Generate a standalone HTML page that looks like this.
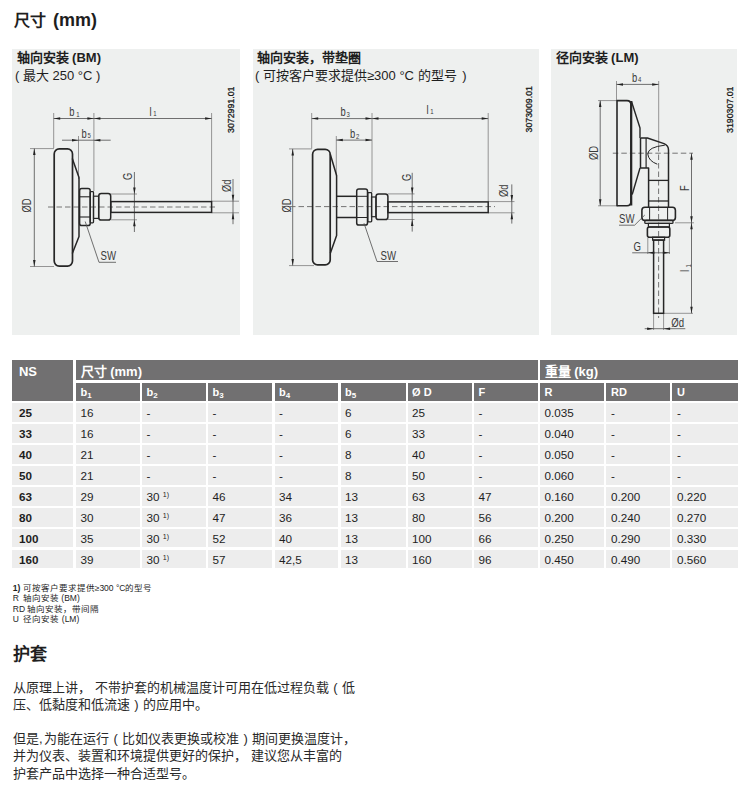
<!DOCTYPE html>
<html lang="zh-CN"><head><meta charset="utf-8">
<style>
html,body{margin:0;padding:0;background:#fff;}
body{width:750px;height:803px;position:relative;overflow:hidden;font-family:"Liberation Sans",sans-serif;color:#1e1e1e;}
.abs{position:absolute;white-space:nowrap;}
.title{left:13.5px;top:9px;font-size:16px;font-weight:bold;line-height:22px;}
.panel{position:absolute;background:#eef0ef;top:49px;height:286px;}
.ptitle{position:absolute;font-size:13px;line-height:17.5px;white-space:nowrap;}
.ptitle b{font-weight:bold;}
.ptitle .l{font-size:13px;}
.h,.d{position:absolute;box-sizing:border-box;}
.h{background:#717071;color:#fff;font-weight:bold;font-size:11px;}
.h1{font-size:13px;}
.d{background:#ededed;color:#1e1e1e;font-size:11.7px;}
.h span,.d span{position:absolute;left:4.6px;line-height:1.117;white-space:nowrap;}
.h span{top:3.15px;}
.h1 span{top:4.5px;}
.d span{top:3px;}
.ns span,.d.b span{left:6.5px;}
.d.b{font-weight:bold;}
sub{font-size:8px;vertical-align:-2px;line-height:0;}
sup{font-size:7px;vertical-align:4px;line-height:0;}
.foot{left:12.8px;top:583px;font-size:8.5px;line-height:10.3px;}
.h2{left:13px;top:644px;font-size:17px;font-weight:bold;line-height:22px;}
.para{left:13px;font-size:13px;line-height:17.5px;color:#2a2a2a;}
.cm{letter-spacing:4px;}
.hc{margin-right:1.5px;}
.fp{font-style:normal;display:inline-block;width:13px;text-align:center;}
svg{position:absolute;left:0;top:0;}
</style></head><body>
<div class="abs title">尺寸<span style="margin-left:2.5px;font-size:18px"> (mm)</span></div>
<div class="panel" style="left:12.4px;width:227.7px;"></div>
<div class="panel" style="left:252.5px;width:286.1px;"></div>
<div class="panel" style="left:551px;width:185.8px;"></div>
<div class="ptitle" style="left:16.5px;top:49.3px;"><b>轴向安装<span class="l"> (BM)</span></b><br><span class="l" style="margin-left:-1.5px">( </span>最大<span class="l"> 250 °C )</span></div>
<div class="ptitle" style="left:256.5px;top:49.3px;"><b>轴向安装，带垫圈</b><br><span class="l" style="margin-left:-1.5px">( </span>可按客户要求提供<span class="l">≥300 °C </span>的型号<span class="l" style="margin-left:2px"> )</span></div>
<div class="ptitle" style="left:555.5px;top:49.3px;"><b>径向安装<span class="l"> (LM)</span></b></div>
<svg width="750" height="803" viewBox="0 0 750 803">
<line x1="53.7" y1="113" x2="53.7" y2="148" stroke="#8a8a8a" stroke-width="0.9" />
<line x1="93.9" y1="113" x2="93.9" y2="191" stroke="#8a8a8a" stroke-width="0.9" />
<line x1="211.6" y1="113" x2="211.6" y2="201" stroke="#8a8a8a" stroke-width="0.9" />
<line x1="78.5" y1="136" x2="78.5" y2="179" stroke="#8a8a8a" stroke-width="0.9" />
<line x1="30" y1="148.6" x2="54" y2="148.6" stroke="#8a8a8a" stroke-width="0.9" />
<line x1="30" y1="266.5" x2="54" y2="266.5" stroke="#8a8a8a" stroke-width="0.9" />
<line x1="53.7" y1="118.5" x2="211.6" y2="118.5" stroke="#4e4e4e" stroke-width="0.8" />
<polygon points="53.70,118.50 60.20,117.25 60.20,119.75" fill="#222"/>
<polygon points="93.90,118.50 87.40,117.25 87.40,119.75" fill="#222"/>
<polygon points="93.90,118.50 100.40,117.25 100.40,119.75" fill="#222"/>
<polygon points="211.60,118.50 205.10,117.25 205.10,119.75" fill="#222"/>
<line x1="62" y1="140.2" x2="110.7" y2="140.2" stroke="#4e4e4e" stroke-width="0.8" />
<polygon points="78.50,140.20 72.00,138.95 72.00,141.45" fill="#222"/>
<polygon points="93.90,140.20 100.40,138.95 100.40,141.45" fill="#222"/>
<line x1="34.3" y1="148.6" x2="34.3" y2="266.5" stroke="#4e4e4e" stroke-width="0.8" />
<polygon points="34.30,148.60 33.05,155.10 35.55,155.10" fill="#222"/>
<polygon points="34.30,266.50 33.05,260.00 35.55,260.00" fill="#222"/>
<line x1="110.8" y1="194" x2="137" y2="194" stroke="#8a8a8a" stroke-width="0.9" />
<line x1="110.8" y1="219.8" x2="137" y2="219.8" stroke="#8a8a8a" stroke-width="0.9" />
<line x1="134.4" y1="172" x2="134.4" y2="232" stroke="#4e4e4e" stroke-width="0.8" />
<polygon points="134.40,194.00 133.15,187.50 135.65,187.50" fill="#222"/>
<polygon points="134.40,219.80 133.15,226.30 135.65,226.30" fill="#222"/>
<line x1="211.6" y1="201.2" x2="239" y2="201.2" stroke="#8a8a8a" stroke-width="0.9" />
<line x1="211.6" y1="212.8" x2="239" y2="212.8" stroke="#8a8a8a" stroke-width="0.9" />
<line x1="233" y1="179" x2="233" y2="224.2" stroke="#4e4e4e" stroke-width="0.8" />
<polygon points="233.00,201.20 231.75,194.70 234.25,194.70" fill="#222"/>
<polygon points="233.00,212.80 231.75,219.30 234.25,219.30" fill="#222"/>
<line x1="48" y1="207" x2="217" y2="207" stroke="#666" stroke-width="0.9" stroke-dasharray="5.5,3"/>
<rect x="54.2" y="148.9" width="18.3" height="117.2" rx="5" stroke="#262626" stroke-width="1.7" fill="none"/>
<path d="M72.3,158.5 L79,177.5 L79,236.5 L72.3,253.5" stroke="#262626" stroke-width="1.5" fill="none" stroke-linejoin="round" />
<rect x="79.6" y="188.6" width="10.6" height="37" rx="2.2" stroke="#262626" stroke-width="1.5" fill="none"/>
<line x1="79.6" y1="196.8" x2="90.2" y2="196.8" stroke="#262626" stroke-width="1.1" />
<line x1="79.6" y1="217" x2="90.2" y2="217" stroke="#262626" stroke-width="1.1" />
<rect x="90.2" y="191.6" width="3.3" height="31.2" rx="0.8" stroke="#262626" stroke-width="1.3" fill="none"/>
<rect x="93.5" y="196.2" width="5.2" height="22.2" rx="0" stroke="#262626" stroke-width="1.2" fill="none"/>
<rect x="98.7" y="193.6" width="12" height="26.4" rx="2.6" stroke="#262626" stroke-width="1.5" fill="none"/>
<rect x="110.8" y="201.6" width="100.8" height="10.8" rx="0" stroke="#262626" stroke-width="1.5" fill="none"/>
<path d="M85.2,221.5 L99,262.3 L116,262.3" stroke="#4e4e4e" stroke-width="0.8" fill="none" stroke-linejoin="round" />
<text transform="translate(69.3,116) scale(0.72,1)" font-size="13" fill="#3a3a3a" text-anchor="start" font-weight="normal">b</text>
<text transform="translate(76.3,116.7) scale(0.75,1)" font-size="8" fill="#3a3a3a" text-anchor="start" font-weight="normal">1</text>
<text transform="translate(149.6,116) scale(0.72,1)" font-size="13" fill="#3a3a3a" text-anchor="start" font-weight="normal">l</text>
<text transform="translate(153.2,116.2) scale(0.75,1)" font-size="8" fill="#3a3a3a" text-anchor="start" font-weight="normal">1</text>
<text transform="translate(81.5,137.5) scale(0.72,1)" font-size="13" fill="#3a3a3a" text-anchor="start" font-weight="normal">b</text>
<text transform="translate(87.5,138.2) scale(0.75,1)" font-size="8" fill="#3a3a3a" text-anchor="start" font-weight="normal">5</text>
<text transform="translate(132,180) rotate(-90) scale(0.72,1)" font-size="13" fill="#3a3a3a" text-anchor="start" font-weight="normal">G</text>
<text transform="translate(231,192) rotate(-90) scale(0.72,1)" font-size="13" fill="#3a3a3a" text-anchor="start" font-weight="normal">Ød</text>
<text transform="translate(30.5,212.5) rotate(-90) scale(0.72,1)" font-size="13" fill="#3a3a3a" text-anchor="start" font-weight="normal">ØD</text>
<text transform="translate(100.5,259.5) scale(0.74,1)" font-size="13" fill="#3a3a3a" text-anchor="start" font-weight="normal">SW</text>
<text transform="translate(234.4,133) rotate(-90) scale(1,1)" font-size="8.8" fill="#1a1a1a" text-anchor="start" font-weight="normal" stroke="#1a1a1a" stroke-width="0.3">3072991.01</text>
<line x1="311.7" y1="113" x2="311.7" y2="148.5" stroke="#8a8a8a" stroke-width="0.9" />
<line x1="372" y1="113" x2="372" y2="192" stroke="#8a8a8a" stroke-width="0.9" />
<line x1="488.2" y1="113" x2="488.2" y2="201" stroke="#8a8a8a" stroke-width="0.9" />
<line x1="336.3" y1="136" x2="336.3" y2="176" stroke="#8a8a8a" stroke-width="0.9" />
<line x1="289" y1="148.9" x2="312" y2="148.9" stroke="#8a8a8a" stroke-width="0.9" />
<line x1="289" y1="265.6" x2="314" y2="265.6" stroke="#8a8a8a" stroke-width="0.9" />
<line x1="311.7" y1="118.6" x2="488.2" y2="118.6" stroke="#4e4e4e" stroke-width="0.8" />
<polygon points="311.70,118.60 318.20,117.35 318.20,119.85" fill="#222"/>
<polygon points="372.00,118.60 365.50,117.35 365.50,119.85" fill="#222"/>
<polygon points="372.00,118.60 378.50,117.35 378.50,119.85" fill="#222"/>
<polygon points="488.20,118.60 481.70,117.35 481.70,119.85" fill="#222"/>
<line x1="336.3" y1="140.1" x2="372" y2="140.1" stroke="#4e4e4e" stroke-width="0.8" />
<polygon points="336.30,140.10 342.80,138.85 342.80,141.35" fill="#222"/>
<polygon points="372.00,140.10 365.50,138.85 365.50,141.35" fill="#222"/>
<line x1="292.7" y1="148.9" x2="292.7" y2="265.6" stroke="#4e4e4e" stroke-width="0.8" />
<polygon points="292.70,148.90 291.45,155.40 293.95,155.40" fill="#222"/>
<polygon points="292.70,265.60 291.45,259.10 293.95,259.10" fill="#222"/>
<line x1="387.9" y1="193.9" x2="414.5" y2="193.9" stroke="#8a8a8a" stroke-width="0.9" />
<line x1="387.9" y1="219.5" x2="414.5" y2="219.5" stroke="#8a8a8a" stroke-width="0.9" />
<line x1="412.2" y1="172.8" x2="412.2" y2="231.6" stroke="#4e4e4e" stroke-width="0.8" />
<polygon points="412.20,193.90 410.95,187.40 413.45,187.40" fill="#222"/>
<polygon points="412.20,219.50 410.95,226.00 413.45,226.00" fill="#222"/>
<line x1="488.2" y1="201.6" x2="514.5" y2="201.6" stroke="#8a8a8a" stroke-width="0.9" />
<line x1="488.2" y1="212.8" x2="514.5" y2="212.8" stroke="#8a8a8a" stroke-width="0.9" />
<line x1="511.8" y1="184.4" x2="511.8" y2="223.6" stroke="#4e4e4e" stroke-width="0.8" />
<polygon points="511.80,201.60 510.55,195.10 513.05,195.10" fill="#222"/>
<polygon points="511.80,212.80 510.55,219.30 513.05,219.30" fill="#222"/>
<line x1="290" y1="206.6" x2="495" y2="206.6" stroke="#666" stroke-width="0.9" stroke-dasharray="5.5,3"/>
<rect x="312.6" y="149.3" width="17.6" height="115.6" rx="5" stroke="#262626" stroke-width="1.7" fill="none"/>
<path d="M330.2,154 L336.6,175.5 L336.6,235.5 L330.4,253" stroke="#262626" stroke-width="1.5" fill="none" stroke-linejoin="round" />
<line x1="336.6" y1="196.3" x2="356.5" y2="196.3" stroke="#262626" stroke-width="1.5" />
<line x1="336.6" y1="217.5" x2="356.5" y2="217.5" stroke="#262626" stroke-width="1.5" />
<rect x="356.7" y="188.9" width="10.8" height="36.2" rx="2.2" stroke="#262626" stroke-width="1.5" fill="none"/>
<line x1="356.7" y1="196.3" x2="367.5" y2="196.3" stroke="#262626" stroke-width="1.0" />
<line x1="356.7" y1="217.5" x2="367.5" y2="217.5" stroke="#262626" stroke-width="1.0" />
<rect x="367.8" y="192.6" width="3.9" height="29.2" rx="0.8" stroke="#262626" stroke-width="1.3" fill="none"/>
<rect x="371.5" y="197" width="4.5" height="19.7" rx="0" stroke="#262626" stroke-width="1.2" fill="none"/>
<rect x="376" y="193.9" width="11.9" height="25.6" rx="2.6" stroke="#262626" stroke-width="1.5" fill="none"/>
<rect x="387.9" y="201.9" width="100.3" height="10.7" rx="0" stroke="#262626" stroke-width="1.5" fill="none"/>
<path d="M364,223.2 L377,261.5 L398,261.5" stroke="#4e4e4e" stroke-width="0.8" fill="none" stroke-linejoin="round" />
<text transform="translate(340.5,116) scale(0.72,1)" font-size="13" fill="#3a3a3a" text-anchor="start" font-weight="normal">b</text>
<text transform="translate(346.5,116.7) scale(0.75,1)" font-size="8" fill="#3a3a3a" text-anchor="start" font-weight="normal">3</text>
<text transform="translate(426.5,114) scale(0.72,1)" font-size="13" fill="#3a3a3a" text-anchor="start" font-weight="normal">l</text>
<text transform="translate(430.2,114.2) scale(0.75,1)" font-size="8" fill="#3a3a3a" text-anchor="start" font-weight="normal">1</text>
<text transform="translate(350,137.8) scale(0.72,1)" font-size="13" fill="#3a3a3a" text-anchor="start" font-weight="normal">b</text>
<text transform="translate(356.0,138.5) scale(0.75,1)" font-size="8" fill="#3a3a3a" text-anchor="start" font-weight="normal">2</text>
<text transform="translate(410.5,181) rotate(-90) scale(0.72,1)" font-size="13" fill="#3a3a3a" text-anchor="start" font-weight="normal">G</text>
<text transform="translate(508,197) rotate(-90) scale(0.72,1)" font-size="13" fill="#3a3a3a" text-anchor="start" font-weight="normal">Ød</text>
<text transform="translate(291.3,212.5) rotate(-90) scale(0.72,1)" font-size="13" fill="#3a3a3a" text-anchor="start" font-weight="normal">ØD</text>
<text transform="translate(380.5,259.5) scale(0.74,1)" font-size="13" fill="#3a3a3a" text-anchor="start" font-weight="normal">SW</text>
<text transform="translate(532.4,132.5) rotate(-90) scale(1,1)" font-size="8.8" fill="#1a1a1a" text-anchor="start" font-weight="normal" stroke="#1a1a1a" stroke-width="0.3">3073009.01</text>
<line x1="616.5" y1="81" x2="616.5" y2="100" stroke="#8a8a8a" stroke-width="0.9" />
<line x1="658.7" y1="81" x2="658.7" y2="146" stroke="#8a8a8a" stroke-width="0.9" />
<line x1="616.5" y1="84.4" x2="658.7" y2="84.4" stroke="#4e4e4e" stroke-width="0.8" />
<polygon points="616.50,84.40 623.00,83.15 623.00,85.65" fill="#222"/>
<polygon points="658.70,84.40 652.20,83.15 652.20,85.65" fill="#222"/>
<line x1="598" y1="100.6" x2="617" y2="100.6" stroke="#8a8a8a" stroke-width="0.9" />
<line x1="598" y1="205.8" x2="618" y2="205.8" stroke="#8a8a8a" stroke-width="0.9" />
<line x1="600.2" y1="100.6" x2="600.2" y2="205.8" stroke="#4e4e4e" stroke-width="0.8" />
<polygon points="600.20,100.60 598.95,107.10 601.45,107.10" fill="#222"/>
<polygon points="600.20,205.80 598.95,199.30 601.45,199.30" fill="#222"/>
<line x1="612.8" y1="153.2" x2="693" y2="153.2" stroke="#666" stroke-width="0.9" stroke-dasharray="5.5,3"/>
<line x1="658.6" y1="146" x2="658.6" y2="318" stroke="#666" stroke-width="0.9" stroke-dasharray="5.5,3"/>
<line x1="675" y1="222.8" x2="694" y2="222.8" stroke="#8a8a8a" stroke-width="0.9" />
<line x1="664" y1="313.3" x2="693" y2="313.3" stroke="#8a8a8a" stroke-width="0.9" />
<line x1="691.5" y1="153.2" x2="691.5" y2="313.3" stroke="#4e4e4e" stroke-width="0.8" />
<polygon points="691.50,153.20 690.25,159.70 692.75,159.70" fill="#222"/>
<polygon points="691.50,222.80 690.25,216.30 692.75,216.30" fill="#222"/>
<polygon points="691.50,222.80 690.25,229.30 692.75,229.30" fill="#222"/>
<polygon points="691.50,313.30 690.25,306.80 692.75,306.80" fill="#222"/>
<line x1="647.8" y1="238" x2="647.8" y2="254" stroke="#8a8a8a" stroke-width="0.9" />
<line x1="669.4" y1="238" x2="669.4" y2="254" stroke="#8a8a8a" stroke-width="0.9" />
<line x1="632.2" y1="252.8" x2="670" y2="252.8" stroke="#4e4e4e" stroke-width="0.8" />
<polygon points="647.80,252.80 654.30,251.55 654.30,254.05" fill="#222"/>
<polygon points="669.40,252.80 662.90,251.55 662.90,254.05" fill="#222"/>
<line x1="653.6" y1="313" x2="653.6" y2="330" stroke="#8a8a8a" stroke-width="0.9" />
<line x1="663.6" y1="313" x2="663.6" y2="330" stroke="#8a8a8a" stroke-width="0.9" />
<line x1="644.7" y1="328.7" x2="685.3" y2="328.7" stroke="#4e4e4e" stroke-width="0.8" />
<polygon points="653.60,328.70 647.10,327.45 647.10,329.95" fill="#222"/>
<polygon points="663.60,328.70 670.10,327.45 670.10,329.95" fill="#222"/>
<path d="M617,100.6 L627,100.6 Q631,100.6 631,105 L631,201 Q631,205.8 627,205.8 L617,205.8 Z" stroke="#262626" stroke-width="1.6" fill="none" stroke-linejoin="round" />
<line x1="631.2" y1="101" x2="631.2" y2="205.5" stroke="#262626" stroke-width="2.2" />
<path d="M631.5,101.5 L640,128 L640,138" stroke="#262626" stroke-width="1.4" fill="none" stroke-linejoin="round" />
<path d="M640,168 L632.2,194.5" stroke="#262626" stroke-width="1.4" fill="none" stroke-linejoin="round" />
<path d="M640.5,138 L647.4,138 L664,143.6 Q668.5,145.5 668.5,150 L668.5,207.2" stroke="#262626" stroke-width="1.5" fill="none" stroke-linejoin="round" />
<path d="M640.5,138 L640.5,168 L648.6,168 L648.6,207.2" stroke="#262626" stroke-width="1.5" fill="none" stroke-linejoin="round" />
<line x1="646.1" y1="138" x2="646.1" y2="168" stroke="#262626" stroke-width="1.2" />
<path d="M664.8,145.2 Q648,147 647.8,154 Q648.5,161 657.3,164.2" stroke="#262626" stroke-width="1.0" fill="none" stroke-linejoin="round" />
<line x1="648.6" y1="180.4" x2="668.5" y2="180.4" stroke="#262626" stroke-width="1.3" />
<line x1="648.6" y1="201" x2="668.5" y2="201" stroke="#262626" stroke-width="1.3" />
<rect x="641.9" y="207.3" width="33.5" height="13.1" rx="3" stroke="#262626" stroke-width="1.6" fill="none"/>
<line x1="649.6" y1="207.3" x2="649.6" y2="220.4" stroke="#262626" stroke-width="1.0" />
<line x1="667.6" y1="207.3" x2="667.6" y2="220.4" stroke="#262626" stroke-width="1.0" />
<rect x="644.8" y="220.4" width="28.2" height="3" rx="1" stroke="#262626" stroke-width="1.3" fill="none"/>
<rect x="648.4" y="223.4" width="21" height="3.6" rx="0" stroke="#262626" stroke-width="1.2" fill="none"/>
<rect x="647.4" y="227" width="22.4" height="10.2" rx="2" stroke="#262626" stroke-width="1.6" fill="none"/>
<rect x="652.6" y="237.2" width="12" height="3" rx="0" stroke="#262626" stroke-width="1.2" fill="none"/>
<rect x="653.6" y="240" width="10" height="73.3" rx="0" stroke="#262626" stroke-width="1.5" fill="none"/>
<path d="M619,225.2 L634.6,225.2 L644.8,215" stroke="#4e4e4e" stroke-width="0.8" fill="none" stroke-linejoin="round" />
<text transform="translate(632,81.5) scale(0.72,1)" font-size="13" fill="#3a3a3a" text-anchor="start" font-weight="normal">b</text>
<text transform="translate(638.0,82.2) scale(0.75,1)" font-size="8" fill="#3a3a3a" text-anchor="start" font-weight="normal">4</text>
<text transform="translate(598.4,160) rotate(-90) scale(0.72,1)" font-size="13" fill="#3a3a3a" text-anchor="start" font-weight="normal">ØD</text>
<text transform="translate(688.5,191) rotate(-90) scale(0.72,1)" font-size="13" fill="#3a3a3a" text-anchor="start" font-weight="normal">F</text>
<text transform="translate(689.3,272) rotate(-90) scale(0.72,1)" font-size="13" fill="#3a3a3a" text-anchor="start" font-weight="normal">l</text>
<text transform="translate(690.8,267.5) rotate(-90) scale(0.75,1)" font-size="8" fill="#3a3a3a" text-anchor="start" font-weight="normal">1</text>
<text transform="translate(633.4,250.5) scale(0.74,1)" font-size="13" fill="#3a3a3a" text-anchor="start" font-weight="normal">G</text>
<text transform="translate(619,223.3) scale(0.74,1)" font-size="13" fill="#3a3a3a" text-anchor="start" font-weight="normal">SW</text>
<text transform="translate(671.3,327.3) scale(0.74,1)" font-size="13" fill="#3a3a3a" text-anchor="start" font-weight="normal">Ød</text>
<text transform="translate(732.6,133) rotate(-90) scale(1,1)" font-size="8.8" fill="#1a1a1a" text-anchor="start" font-weight="normal" stroke="#1a1a1a" stroke-width="0.3">3190307.01</text>
</svg>
<div class="h h1 ns" style="left:12.40px;top:360.00px;width:60.60px;height:41.00px"><span>NS</span></div>
<div class="h h1" style="left:76.00px;top:360.00px;width:461.60px;height:20.00px"><span>尺寸 (mm)</span></div>
<div class="h h1" style="left:540.00px;top:360.00px;width:197.60px;height:20.00px"><span>重量 (kg)</span></div>
<div class="h" style="left:76.00px;top:383.00px;width:64.00px;height:18.00px"><span>b<sub>1</sub></span></div>
<div class="h" style="left:142.00px;top:383.00px;width:64.00px;height:18.00px"><span>b<sub>2</sub></span></div>
<div class="h" style="left:208.00px;top:383.00px;width:64.40px;height:18.00px"><span>b<sub>3</sub></span></div>
<div class="h" style="left:274.50px;top:383.00px;width:63.90px;height:18.00px"><span>b<sub>4</sub></span></div>
<div class="h" style="left:340.50px;top:383.00px;width:65.10px;height:18.00px"><span>b<sub>5</sub></span></div>
<div class="h" style="left:407.50px;top:383.00px;width:64.10px;height:18.00px"><span>Ø D</span></div>
<div class="h" style="left:474.00px;top:383.00px;width:63.60px;height:18.00px"><span>F</span></div>
<div class="h" style="left:540.00px;top:383.00px;width:63.60px;height:18.00px"><span>R</span></div>
<div class="h" style="left:606.40px;top:383.00px;width:64.00px;height:18.00px"><span>RD</span></div>
<div class="h" style="left:672.40px;top:383.00px;width:65.20px;height:18.00px"><span>U</span></div>
<div class="d b" style="left:12.40px;top:403.10px;width:60.60px;height:18.80px"><span>25</span></div>
<div class="d" style="left:76.00px;top:403.10px;width:64.00px;height:18.80px"><span>16</span></div>
<div class="d" style="left:142.00px;top:403.10px;width:64.00px;height:18.80px"><span>-</span></div>
<div class="d" style="left:208.00px;top:403.10px;width:64.40px;height:18.80px"><span>-</span></div>
<div class="d" style="left:274.50px;top:403.10px;width:63.90px;height:18.80px"><span>-</span></div>
<div class="d" style="left:340.50px;top:403.10px;width:65.10px;height:18.80px"><span>6</span></div>
<div class="d" style="left:407.50px;top:403.10px;width:64.10px;height:18.80px"><span>25</span></div>
<div class="d" style="left:474.00px;top:403.10px;width:63.60px;height:18.80px"><span>-</span></div>
<div class="d" style="left:540.00px;top:403.10px;width:63.60px;height:18.80px"><span>0.035</span></div>
<div class="d" style="left:606.40px;top:403.10px;width:64.00px;height:18.80px"><span>-</span></div>
<div class="d" style="left:672.40px;top:403.10px;width:65.20px;height:18.80px"><span>-</span></div>
<div class="d b" style="left:12.40px;top:424.03px;width:60.60px;height:18.80px"><span>33</span></div>
<div class="d" style="left:76.00px;top:424.03px;width:64.00px;height:18.80px"><span>16</span></div>
<div class="d" style="left:142.00px;top:424.03px;width:64.00px;height:18.80px"><span>-</span></div>
<div class="d" style="left:208.00px;top:424.03px;width:64.40px;height:18.80px"><span>-</span></div>
<div class="d" style="left:274.50px;top:424.03px;width:63.90px;height:18.80px"><span>-</span></div>
<div class="d" style="left:340.50px;top:424.03px;width:65.10px;height:18.80px"><span>6</span></div>
<div class="d" style="left:407.50px;top:424.03px;width:64.10px;height:18.80px"><span>33</span></div>
<div class="d" style="left:474.00px;top:424.03px;width:63.60px;height:18.80px"><span>-</span></div>
<div class="d" style="left:540.00px;top:424.03px;width:63.60px;height:18.80px"><span>0.040</span></div>
<div class="d" style="left:606.40px;top:424.03px;width:64.00px;height:18.80px"><span>-</span></div>
<div class="d" style="left:672.40px;top:424.03px;width:65.20px;height:18.80px"><span>-</span></div>
<div class="d b" style="left:12.40px;top:444.96px;width:60.60px;height:18.80px"><span>40</span></div>
<div class="d" style="left:76.00px;top:444.96px;width:64.00px;height:18.80px"><span>21</span></div>
<div class="d" style="left:142.00px;top:444.96px;width:64.00px;height:18.80px"><span>-</span></div>
<div class="d" style="left:208.00px;top:444.96px;width:64.40px;height:18.80px"><span>-</span></div>
<div class="d" style="left:274.50px;top:444.96px;width:63.90px;height:18.80px"><span>-</span></div>
<div class="d" style="left:340.50px;top:444.96px;width:65.10px;height:18.80px"><span>8</span></div>
<div class="d" style="left:407.50px;top:444.96px;width:64.10px;height:18.80px"><span>40</span></div>
<div class="d" style="left:474.00px;top:444.96px;width:63.60px;height:18.80px"><span>-</span></div>
<div class="d" style="left:540.00px;top:444.96px;width:63.60px;height:18.80px"><span>0.050</span></div>
<div class="d" style="left:606.40px;top:444.96px;width:64.00px;height:18.80px"><span>-</span></div>
<div class="d" style="left:672.40px;top:444.96px;width:65.20px;height:18.80px"><span>-</span></div>
<div class="d b" style="left:12.40px;top:465.89px;width:60.60px;height:18.80px"><span>50</span></div>
<div class="d" style="left:76.00px;top:465.89px;width:64.00px;height:18.80px"><span>21</span></div>
<div class="d" style="left:142.00px;top:465.89px;width:64.00px;height:18.80px"><span>-</span></div>
<div class="d" style="left:208.00px;top:465.89px;width:64.40px;height:18.80px"><span>-</span></div>
<div class="d" style="left:274.50px;top:465.89px;width:63.90px;height:18.80px"><span>-</span></div>
<div class="d" style="left:340.50px;top:465.89px;width:65.10px;height:18.80px"><span>8</span></div>
<div class="d" style="left:407.50px;top:465.89px;width:64.10px;height:18.80px"><span>50</span></div>
<div class="d" style="left:474.00px;top:465.89px;width:63.60px;height:18.80px"><span>-</span></div>
<div class="d" style="left:540.00px;top:465.89px;width:63.60px;height:18.80px"><span>0.060</span></div>
<div class="d" style="left:606.40px;top:465.89px;width:64.00px;height:18.80px"><span>-</span></div>
<div class="d" style="left:672.40px;top:465.89px;width:65.20px;height:18.80px"><span>-</span></div>
<div class="d b" style="left:12.40px;top:486.82px;width:60.60px;height:18.80px"><span>63</span></div>
<div class="d" style="left:76.00px;top:486.82px;width:64.00px;height:18.80px"><span>29</span></div>
<div class="d" style="left:142.00px;top:486.82px;width:64.00px;height:18.80px"><span>30 <sup>1)</sup></span></div>
<div class="d" style="left:208.00px;top:486.82px;width:64.40px;height:18.80px"><span>46</span></div>
<div class="d" style="left:274.50px;top:486.82px;width:63.90px;height:18.80px"><span>34</span></div>
<div class="d" style="left:340.50px;top:486.82px;width:65.10px;height:18.80px"><span>13</span></div>
<div class="d" style="left:407.50px;top:486.82px;width:64.10px;height:18.80px"><span>63</span></div>
<div class="d" style="left:474.00px;top:486.82px;width:63.60px;height:18.80px"><span>47</span></div>
<div class="d" style="left:540.00px;top:486.82px;width:63.60px;height:18.80px"><span>0.160</span></div>
<div class="d" style="left:606.40px;top:486.82px;width:64.00px;height:18.80px"><span>0.200</span></div>
<div class="d" style="left:672.40px;top:486.82px;width:65.20px;height:18.80px"><span>0.220</span></div>
<div class="d b" style="left:12.40px;top:507.75px;width:60.60px;height:18.80px"><span>80</span></div>
<div class="d" style="left:76.00px;top:507.75px;width:64.00px;height:18.80px"><span>30</span></div>
<div class="d" style="left:142.00px;top:507.75px;width:64.00px;height:18.80px"><span>30 <sup>1)</sup></span></div>
<div class="d" style="left:208.00px;top:507.75px;width:64.40px;height:18.80px"><span>47</span></div>
<div class="d" style="left:274.50px;top:507.75px;width:63.90px;height:18.80px"><span>36</span></div>
<div class="d" style="left:340.50px;top:507.75px;width:65.10px;height:18.80px"><span>13</span></div>
<div class="d" style="left:407.50px;top:507.75px;width:64.10px;height:18.80px"><span>80</span></div>
<div class="d" style="left:474.00px;top:507.75px;width:63.60px;height:18.80px"><span>56</span></div>
<div class="d" style="left:540.00px;top:507.75px;width:63.60px;height:18.80px"><span>0.200</span></div>
<div class="d" style="left:606.40px;top:507.75px;width:64.00px;height:18.80px"><span>0.240</span></div>
<div class="d" style="left:672.40px;top:507.75px;width:65.20px;height:18.80px"><span>0.270</span></div>
<div class="d b" style="left:12.40px;top:528.68px;width:60.60px;height:18.80px"><span>100</span></div>
<div class="d" style="left:76.00px;top:528.68px;width:64.00px;height:18.80px"><span>35</span></div>
<div class="d" style="left:142.00px;top:528.68px;width:64.00px;height:18.80px"><span>30 <sup>1)</sup></span></div>
<div class="d" style="left:208.00px;top:528.68px;width:64.40px;height:18.80px"><span>52</span></div>
<div class="d" style="left:274.50px;top:528.68px;width:63.90px;height:18.80px"><span>40</span></div>
<div class="d" style="left:340.50px;top:528.68px;width:65.10px;height:18.80px"><span>13</span></div>
<div class="d" style="left:407.50px;top:528.68px;width:64.10px;height:18.80px"><span>100</span></div>
<div class="d" style="left:474.00px;top:528.68px;width:63.60px;height:18.80px"><span>66</span></div>
<div class="d" style="left:540.00px;top:528.68px;width:63.60px;height:18.80px"><span>0.250</span></div>
<div class="d" style="left:606.40px;top:528.68px;width:64.00px;height:18.80px"><span>0.290</span></div>
<div class="d" style="left:672.40px;top:528.68px;width:65.20px;height:18.80px"><span>0.330</span></div>
<div class="d b" style="left:12.40px;top:549.61px;width:60.60px;height:18.80px"><span>160</span></div>
<div class="d" style="left:76.00px;top:549.61px;width:64.00px;height:18.80px"><span>39</span></div>
<div class="d" style="left:142.00px;top:549.61px;width:64.00px;height:18.80px"><span>30 <sup>1)</sup></span></div>
<div class="d" style="left:208.00px;top:549.61px;width:64.40px;height:18.80px"><span>57</span></div>
<div class="d" style="left:274.50px;top:549.61px;width:63.90px;height:18.80px"><span>42,5</span></div>
<div class="d" style="left:340.50px;top:549.61px;width:65.10px;height:18.80px"><span>13</span></div>
<div class="d" style="left:407.50px;top:549.61px;width:64.10px;height:18.80px"><span>160</span></div>
<div class="d" style="left:474.00px;top:549.61px;width:63.60px;height:18.80px"><span>96</span></div>
<div class="d" style="left:540.00px;top:549.61px;width:63.60px;height:18.80px"><span>0.450</span></div>
<div class="d" style="left:606.40px;top:549.61px;width:64.00px;height:18.80px"><span>0.490</span></div>
<div class="d" style="left:672.40px;top:549.61px;width:65.20px;height:18.80px"><span>0.560</span></div>
<div class="abs foot"><b>1)</b> 可按客户要求提供≥300 °C的型号<br>R<span style="margin-left:4px"></span>轴向安装 (BM)<br>RD 轴向安装，带间隔<br>U<span style="margin-left:4.5px"></span>径向安装 (LM)</div>
<div class="abs h2">护套</div>
<div class="abs para" style="top:678.5px;">从原理上讲<span class="cm">，</span>不带护套的机械温度计可用在低过程负载<i class="fp">(</i>低<br>压、低黏度和低流速<i class="fp">)</i>的应用中。</div>
<div class="abs para" style="top:729.5px;">但是<span class="hc">,</span>为能在运行<i class="fp">(</i>比如仪表更换或校准<i class="fp">)</i>期间更换温度计，<br>并为仪表、装置和环境提供更好的保护<span class="cm">，</span>建议您从丰富的<br>护套产品中选择一种合适型号。</div>
</body></html>
